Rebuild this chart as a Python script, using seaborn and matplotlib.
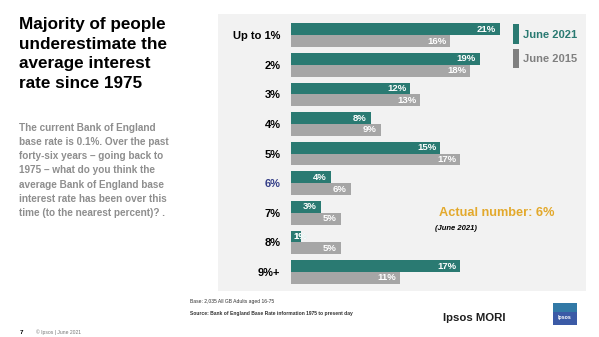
import matplotlib
matplotlib.use("Agg")
import matplotlib.pyplot as plt
from matplotlib.patches import Rectangle
import pandas as pd
import seaborn as sns

# Survey answers: perceived average Bank of England base rate since 1975
answers = ["Up to 1%", "2%", "3%", "4%", "5%", "6%", "7%", "8%", "9%+"]
june_2021 = [21, 19, 12, 8, 15, 4, 3, 1, 17]
june_2015 = [16, 18, 13, 9, 17, 6, 5, 5, 11]
waves = ["June 2021", "June 2015"]
actual_answer = "6%"

TEAL = "#2A7A72"
GREY = "#A6A6A6"
LEGEND_GREY = "#808080"
GOLD = "#E3A92C"
NAVY = "#353F88"
TEXT_GREY = "#8E8E8E"
PANEL = "#F2F2F2"

sns.set_theme(style="white")
plt.rcParams["font.family"] = ["Liberation Sans", "DejaVu Sans"]

df = pd.DataFrame({
    "answer": answers * 2,
    "pct": june_2021 + june_2015,
    "wave": [waves[0]] * len(answers) + [waves[1]] * len(answers),
})

W, H = 599, 337
fig = plt.figure(figsize=(W / 100, H / 100), dpi=100)
fig.patch.set_facecolor("white")


def fx(px):
    return px / W


def fy(py):
    return 1 - py / H


def fig_rect(x0, y0, x1, y1, color, **kw):
    r = Rectangle((fx(x0), fy(y1)), fx(x1) - fx(x0), fy(y0) - fy(y1),
                  transform=fig.transFigure, facecolor=color, edgecolor="none", **kw)
    fig.patches.append(r)
    return r


# light panel behind the chart
fig_rect(218, 14, 586, 291, PANEL, zorder=-5)

ax = fig.add_axes([fx(291), fy(286.8), 28 * 9.95 / W, (286.8 - 20.5) / H])
ax.set_facecolor("none")
sns.barplot(data=df, y="answer", x="pct", hue="wave", orient="h",
            order=answers, hue_order=waves, palette=[TEAL, GREY],
            width=0.8, saturation=1, legend=False, linewidth=0, ax=ax)
ax.set_xlim(0, 28)
ax.set_ylim(len(answers) - 0.5, -0.5)
ax.set_xlabel("")
ax.set_ylabel("")
ax.set_xticks([])
for s in ax.spines.values():
    s.set_visible(False)
ax.tick_params(axis="y", length=0, pad=7.5)
for lbl in ax.get_yticklabels():
    lbl.set_fontsize(8)
    lbl.set_fontweight("bold")
    lbl.set_color(NAVY if lbl.get_text() == actual_answer else "black")

# value labels at the end of each bar
for container in ax.containers:
    for patch in container.patches:
        v = patch.get_width()
        yc = patch.get_y() + patch.get_height() / 2
        label = f"{v:.0f}%"
        if v >= 2.5:
            ax.text(v - 0.4, yc, label, ha="right", va="center", color="white",
                    fontsize=6.8, fontweight="bold", zorder=5)
        else:
            # short bar: the label runs past the bar end, pale outside, white inside
            ax.text(0.2, yc, label, ha="left", va="center", color="#BFE2DD",
                    fontsize=6.8, fontweight="bold", zorder=5)
            t = ax.text(0.2, yc, label, ha="left", va="center", color="white",
                        fontsize=6.8, fontweight="bold", zorder=6)
            t.set_clip_path(patch)

# legend
fig_rect(513, 24, 519, 44, TEAL)
fig_rect(513, 49, 519, 68, LEGEND_GREY)
fig.text(fx(523), fy(35), waves[0], color=TEAL, fontsize=8, fontweight="bold", va="center")
fig.text(fx(523), fy(59), waves[1], color=LEGEND_GREY, fontsize=8, fontweight="bold", va="center")

# actual value callout
fig.text(fx(439), fy(213), "Actual number: 6%", color=GOLD, fontsize=9.2,
         fontweight="bold", va="center")
fig.text(fx(435), fy(228), "(June 2021)", color="black", fontsize=5.5,
         fontweight="bold", style="italic", va="center")

# title and question text
fig.text(fx(19), fy(17), "Majority of people\nunderestimate the\naverage interest\nrate since 1975",
         fontsize=12.3, fontweight="bold", color="black", va="top", linespacing=1.38)
fig.text(fx(19), fy(123),
         "The current Bank of England\nbase rate is 0.1%. Over the past\n"
         "forty-six years \u2013 going back to\n1975 \u2013 what do you think the\n"
         "average Bank of England base\ninterest rate has been over this\n"
         "time (to the nearest percent)? .",
         fontsize=7.2, fontweight="bold", color=TEXT_GREY, va="top", linespacing=1.52)

# footnotes
fig.text(fx(190), fy(302), "Base: 2,035 All GB Adults aged 16-75", fontsize=3.6,
         color="#333333", va="center")
fig.text(fx(190), fy(313), "Source: Bank of England Base Rate information 1975 to present day",
         fontsize=3.6, fontweight="bold", color="#333333", va="center")
fig.text(fx(20), fy(332), "7", fontsize=4.5, fontweight="bold", color="black", va="center")
fig.text(fx(36), fy(332), "\u00a9 Ipsos | June 2021", fontsize=3.6, color="#777777", va="center")

# branding
fig.text(fx(443), fy(318), "Ipsos MORI", fontsize=8.2, fontweight="bold",
         color="#1E1E1E", va="center")
fig_rect(553, 303, 577, 325, "#3B5AA6")
fig_rect(553, 303, 577, 312, "#2D8EA6", alpha=0.6)
fig.text(fx(565), fy(318), "Ipsos", fontsize=3.8, fontweight="bold", color="white",
         ha="center", va="center")

fig.savefig("out.png", dpi=100, facecolor="white")
